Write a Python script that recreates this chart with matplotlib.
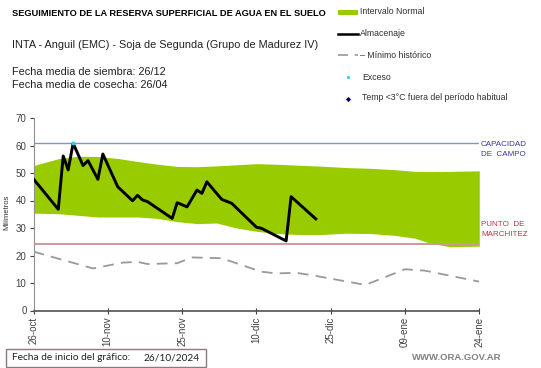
import numpy as np
import pandas as pd
import matplotlib
matplotlib.use("Agg")
import matplotlib.pyplot as plt
from matplotlib.patches import Rectangle

plt.rcParams['font.family'] = ['Liberation Sans', 'DejaVu Sans']

# ---- datos ----
fecha_inicio = "2024-10-26"
fecha_fin = "2025-01-24"

banda_fechas = ["2024-10-26", "2024-10-31", "2024-11-04", "2024-11-08", "2024-11-12",
                "2024-11-16", "2024-11-20", "2024-11-24", "2024-11-28", "2024-12-02",
                "2024-12-06", "2024-12-10", "2024-12-14", "2024-12-19", "2024-12-23",
                "2024-12-28", "2025-01-02", "2025-01-07", "2025-01-11", "2025-01-14",
                "2025-01-18", "2025-01-24"]
banda_sup = [52.7, 55.2, 56.1, 56.0, 55.3, 54.2, 53.2, 52.4, 52.3, 52.6, 53.0,
             53.4, 53.2, 52.8, 52.5, 52.0, 51.7, 51.2, 50.6, 50.5, 50.6, 50.8]
banda_inf = [35.4, 35.2, 34.6, 34.0, 34.0, 34.0, 33.5, 32.3, 31.6, 31.8, 30.0,
             28.8, 28.0, 27.6, 27.6, 28.1, 28.0, 27.3, 26.3, 24.5, 23.2, 23.4]

alm_fechas = ["2024-10-26", "2024-10-31", "2024-11-01", "2024-11-02", "2024-11-03",
              "2024-11-05", "2024-11-06", "2024-11-08", "2024-11-09", "2024-11-12",
              "2024-11-15", "2024-11-16", "2024-11-17", "2024-11-18", "2024-11-23",
              "2024-11-24", "2024-11-26", "2024-11-28", "2024-11-29", "2024-11-30",
              "2024-12-03", "2024-12-05", "2024-12-10", "2024-12-11", "2024-12-16",
              "2024-12-17", "2024-12-22"]
alm_valores = [47.8, 36.8, 56.2, 51.1, 60.8, 52.7, 54.5, 47.7, 56.9, 45.0,
               39.9, 41.9, 40.2, 39.6, 33.5, 39.2, 37.7, 43.8, 42.6, 46.8,
               40.4, 39.0, 30.3, 29.9, 25.3, 41.4, 33.3]

min_fechas = ["2024-10-26", "2024-11-07", "2024-11-13", "2024-11-16", "2024-11-18",
              "2024-11-24", "2024-11-27", "2024-12-03", "2024-12-11", "2024-12-14",
              "2024-12-18", "2024-12-21", "2025-01-01", "2025-01-09", "2025-01-13",
              "2025-01-24"]
min_valores = [21.4, 15.3, 17.4, 17.7, 16.9, 17.2, 19.3, 19.0, 14.1, 13.5,
               13.7, 12.9, 9.3, 15.0, 14.5, 10.5]

exceso_fechas = ["2024-11-03"]
exceso_valores = [60.8]

capacidad_campo = 60.8
punto_marchitez = 24.2

tick_fechas = ["2024-10-26", "2024-11-10", "2024-11-25", "2024-12-10",
               "2024-12-25", "2025-01-09", "2025-01-24"]
tick_textos = ["26-oct", "10-nov", "25-nov", "10-dic", "25-dic", "09-ene", "24-ene"]

VERDE = "#99cc00"

W, H = 541, 368
fig = plt.figure(figsize=(W / 100, H / 100), dpi=100)

# ejes principales (posicion en pixeles)
x0, x1, y0, y1 = 33.5, 479.3, 118.0, 310.5
ax = fig.add_axes([x0 / W, 1 - y1 / H, (x1 - x0) / W, (y1 - y0) / H])

bf = pd.to_datetime(banda_fechas)
ax.fill_between(bf, banda_inf, banda_sup, color=VERDE, lw=0, zorder=1)
ax.axhline(capacidad_campo, color="#7f95c5", lw=1.0, zorder=2)
ax.axhline(punto_marchitez, color="#c99a9a", lw=1.4, zorder=2)
ax.plot(pd.to_datetime(min_fechas), min_valores, color="#999999", lw=1.3,
        dashes=(6, 4), zorder=3)
ax.plot(pd.to_datetime(alm_fechas), alm_valores, color="black", lw=2.1, zorder=4)
ax.scatter(pd.to_datetime(exceso_fechas), exceso_valores, s=8, color="#33ccee",
           zorder=5, lw=0)

ax.set_xlim(pd.Timestamp(fecha_inicio), pd.Timestamp(fecha_fin))
ax.set_ylim(0, 70)
ax.set_yticks(range(0, 71, 10))
ax.set_xticks(pd.to_datetime(tick_fechas))
ax.set_xticklabels(tick_textos, rotation=90)
ax.tick_params(axis="both", labelsize=7, colors="#404040", length=3, width=0.8)
ax.tick_params(axis="x", direction="inout", length=5, pad=2)
ax.tick_params(axis="y", pad=2)
for lado in ["top", "right"]:
    ax.spines[lado].set_visible(False)
ax.spines["left"].set_color("#909090")
ax.spines["bottom"].set_color("#505050")
ax.spines["bottom"].set_linewidth(1.2)

# capa de textos en coordenadas de pixel
fondo = fig.add_axes([0, 0, 1, 1], zorder=-1)
fondo.set_xlim(0, W)
fondo.set_ylim(H, 0)
fondo.axis("off")

fondo.text(12, 14, "SEGUIMIENTO DE LA RESERVA SUPERFICIAL DE AGUA EN EL SUELO",
           fontsize=6.7, fontweight="bold", va="center")
fondo.text(12, 45, "INTA - Anguil (EMC) - Soja de Segunda (Grupo de Madurez IV)",
           fontsize=7.85, va="center", color="#202020")
fondo.text(12, 72, "Fecha media de siembra: 26/12", fontsize=7.85, va="center",
           color="#202020")
fondo.text(12, 85, "Fecha media de cosecha: 26/04", fontsize=7.85, va="center",
           color="#202020")

# leyenda manual
fondo.add_patch(Rectangle((338, 9.5), 20, 5, color=VERDE, lw=0))
fondo.plot([338, 358], [34, 34], color="black", lw=1.8)
fondo.plot([338, 358], [55, 55], color="#999999", lw=1.2, dashes=(6, 4))
fondo.scatter([348], [77], s=5, color="#33ccee", lw=0)
fondo.scatter([348], [99], s=7, marker="D", color="#000080", lw=0)
ley = ["Intervalo Normal", "Almacenaje", "– Mínimo histórico", "Exceso",
       "Temp <3°C fuera del período habitual"]
ley_y = [12, 34, 55, 77, 98]
ley_x = [360, 360, 360, 362, 362]
for t, xx, yy in zip(ley, ley_x, ley_y):
    fondo.text(xx, yy, t, fontsize=6.3, va="center", color="#303030")

fondo.text(7, 212, "Milímetros", fontsize=5.5, rotation=90, va="center",
           ha="center", color="#303030")

fondo.text(481, 144, "CAPACIDAD", fontsize=5.8, va="center", color="#3636a0")
fondo.text(481, 154, "DE  CAMPO", fontsize=5.8, va="center", color="#3636a0")
fondo.text(481, 225, "PUNTO  DE", fontsize=5.8, va="center", color="#c0304a")
fondo.text(481, 234, "MARCHITEZ", fontsize=5.8, va="center", color="#c0304a")

fondo.add_patch(Rectangle((6, 349), 200, 17.5, fill=False, ec="#8c7a7a", lw=1.0))
fondo.text(12, 358, "Fecha de inicio del gráfico:", fontsize=7.3, va="center",
           family=["Lato", "DejaVu Sans"], color="#202020")
fondo.text(144, 358, "26/10/2024", fontsize=7.3, va="center",
           family=["Lato", "DejaVu Sans"], color="#202020")
fondo.text(412, 358, "WWW.ORA.GOV.AR", fontsize=6.8, fontweight="bold",
           va="center", color="#808080")

fig.savefig("out.png", dpi=100)
